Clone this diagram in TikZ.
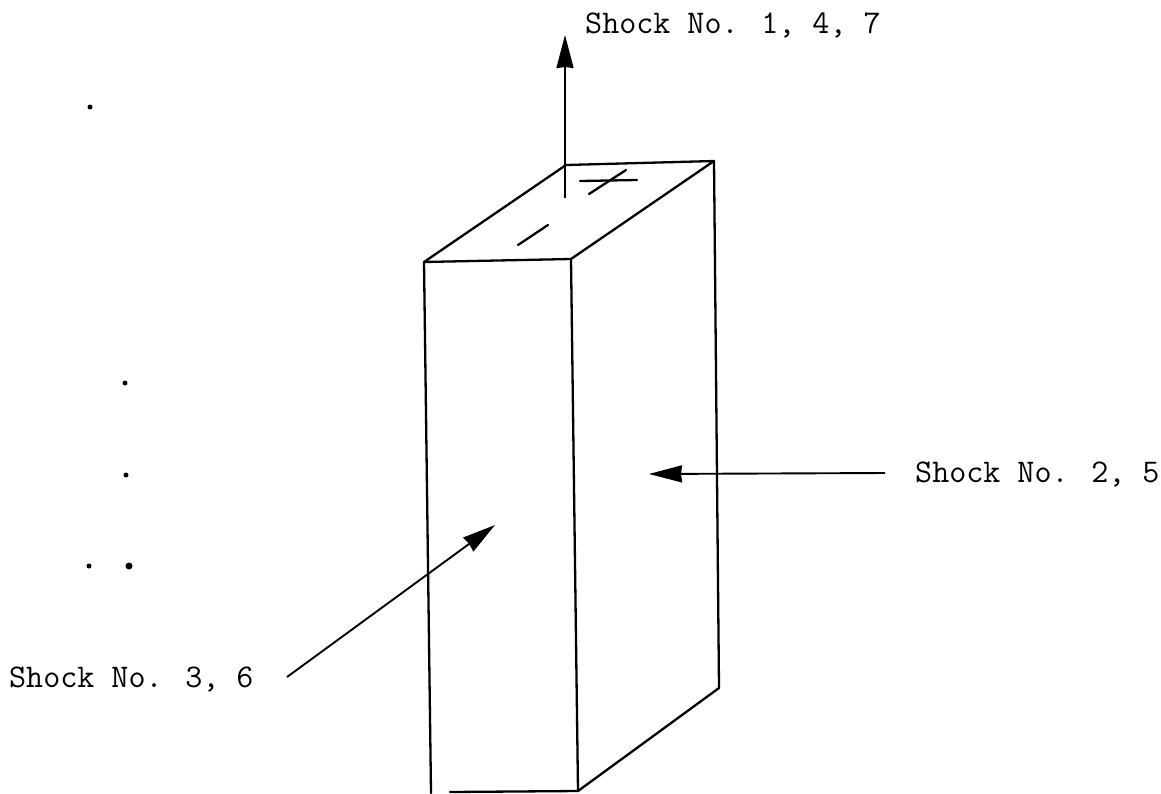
\documentclass[tikz,border=0pt]{standalone}
\usetikzlibrary{arrows.meta}
\tikzset{
  edgeline/.style={line width=2.3pt,line cap=round,line join=round,black},
  shockarrow/.style={line width=1.9pt,-{Stealth[length=33pt,width=17pt,inset=1pt]},black},
  shocklabel/.style={inner sep=0pt,anchor=base west,font=\ttfamily\fontsize{33.1}{36}\selectfont,black},
  speck/.style={fill=black,inner sep=0pt,minimum size=5pt,circle,draw=none}
}
\begin{document}
\begin{tikzpicture}[x=1pt,y=-1pt]
\useasboundingbox (0,0) rectangle (1161,793);
% box corners
\coordinate (tbl) at (566,165);
\coordinate (tbr) at (714,161);
\coordinate (tfl) at (424,262);
\coordinate (tfr) at (571,259);
\coordinate (bfl) at (431,793);
\coordinate (bfr) at (578,791);
\coordinate (bbr) at (719,688);
\coordinate (bfs) at (450,792);
% box
\draw[edgeline] (tfl) -- (tbl) -- (tbr) -- (tfr) -- cycle;
\draw[edgeline] (tfl) -- (bfl);
\draw[edgeline] (tfr) -- (bfr);
\draw[edgeline] (tbr) -- (bbr) -- (bfr) -- (bfs);
% polarity marks
\coordinate (pa) at (580,181);
\coordinate (pb) at (637,180);
\coordinate (pc) at (589,194);
\coordinate (pd) at (626,170);
\coordinate (ma) at (518,245);
\coordinate (mb) at (548,225);
\draw[edgeline] (pa) -- (pb);
\draw[edgeline] (pc) -- (pd);
\draw[edgeline] (ma) -- (mb);
% labels
\node[shocklabel] (s1) at (585,33) {Shock No. 1, 4, 7};
\node[shocklabel] (s2) at (915,482) {Shock No. 2, 5};
\node[shocklabel] (s3) at (9,687) {Shock No. 3, 6};
% arrows
\coordinate (a1s) at (565,198);
\coordinate (a1e) at (565,35);
\coordinate (a2s) at (885,473);
\coordinate (a2e) at (649,474);
\coordinate (a3s) at (287,677);
\coordinate (a3e) at (495,525);
\draw[shockarrow] (a1s) -- (a1e);
\draw[shockarrow] (a2s) -- (a2e);
\draw[shockarrow] (a3s) -- (a3e);
% scan specks
\node[speck] (k1) at (90,107) {};
\node[speck] (k2) at (125,383) {};
\node[speck] (k3) at (126,475) {};
\node[speck] (k4) at (89,566) {};
\node[speck,minimum size=7pt] (k5) at (129,566) {};
\end{tikzpicture}
\end{document}
